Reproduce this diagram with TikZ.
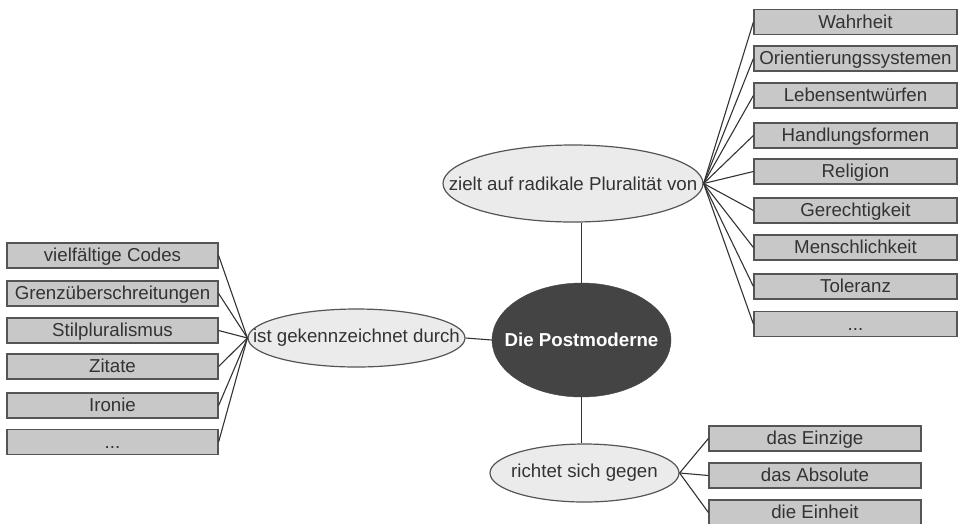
\documentclass[tikz,border=0pt]{standalone}
\usepackage{fontspec}
\setmainfont{Liberation Sans}
\usetikzlibrary{shapes.geometric}
\definecolor{boxfill}{HTML}{C8C8C8}
\definecolor{boxline}{HTML}{555555}
\definecolor{ellfill}{HTML}{EBEBEB}
\definecolor{corefill}{HTML}{444444}
\definecolor{txt}{HTML}{333333}
\begin{document}
\begin{tikzpicture}[x=1pt,y=-1pt,
  font=\fontsize{18.7}{20}\selectfont,
  itembox/.style={draw=boxline, line width=1.2pt, fill=boxfill, text=txt, rectangle, inner sep=0pt, minimum height=25pt, text height=13pt, text depth=1pt},
  rbox/.style={itembox, minimum width=203pt},
  lbox/.style={itembox, minimum width=211pt},
  bbox/.style={itembox, minimum width=212pt},
  relell/.style={draw=boxline, line width=1.2pt, fill=ellfill, ellipse, inner sep=0pt},
  elltext/.style={text=txt, inner sep=0pt},
  link/.style={draw=txt, line width=1.1pt}]
\useasboundingbox (0,0) rectangle (960,523);
\begin{scope}
\clip (0,0) rectangle (960,523);
% center
\node[ellipse, fill=corefill, draw=corefill, minimum width=179pt, minimum height=114pt, inner sep=0pt,
  label={[text=white, inner sep=0pt, font=\fontsize{18.7}{20}\selectfont\bfseries]center:Die Postmoderne}] (core) at (581.5,340) {};
% relation ellipses
\node[relell, minimum width=260pt, minimum height=77pt,
  label={[elltext]center:zielt auf radikale Pluralität von}] (top) at (573,183.5) {};
\node[relell, minimum width=217pt, minimum height=58pt,
  label={[elltext]center:ist gekennzeichnet durch}] (left) at (356.5,338) {};
\node[relell, minimum width=189pt, minimum height=58pt,
  label={[elltext]center:richtet sich gegen}] (bot) at (584.5,473) {};
% right boxes
\node[rbox] (r1) at (855.5,22) {Wahrheit};
\node[rbox] (r2) at (855.5,58.5) {Orientierungssystemen};
\node[rbox] (r3) at (855.5,95.5) {Lebensentwürfen};
\node[rbox] (r4) at (855.5,135.5) {Handlungsformen};
\node[rbox] (r5) at (855.5,171.5) {Religion};
\node[rbox] (r6) at (855.5,210.5) {Gerechtigkeit};
\node[rbox] (r7) at (855.5,247.5) {Menschlichkeit};
\node[rbox] (r8) at (855.5,286.5) {Toleranz};
\node[rbox] (r9) at (855.5,324) {...};
% left boxes
\node[lbox] (l1) at (112.5,255.5) {vielfältige Codes};
\node[lbox] (l2) at (112.5,293.5) {Grenzüberschreitungen};
\node[lbox] (l3) at (112.5,330.5) {Stilpluralismus};
\node[lbox] (l4) at (112.5,366.5) {Zitate};
\node[lbox] (l5) at (112.5,405.5) {Ironie};
\node[lbox] (l6) at (112.5,442) {...};
% bottom boxes
\node[bbox] (b1) at (815,438.5) {das Einzige};
\node[bbox] (b2) at (815,475.5) {das Absolute};
\node[bbox] (b3) at (815,512.5) {die Einheit};
% connectors
\draw[link] (core.north) -- (core.north |- top.south);
\draw[link] (core.south) -- (core.south |- bot.north);
\draw[link] (core.west) -- (left.east);
\foreach \i in {1,...,9} {\draw[link] (top.east) -- (r\i.west);}
\foreach \i in {1,...,6} {\draw[link] (left.west) -- (l\i.east);}
\foreach \i in {1,...,3} {\draw[link] (bot.east) -- (b\i.west);}
\end{scope}
\end{tikzpicture}
\end{document}
